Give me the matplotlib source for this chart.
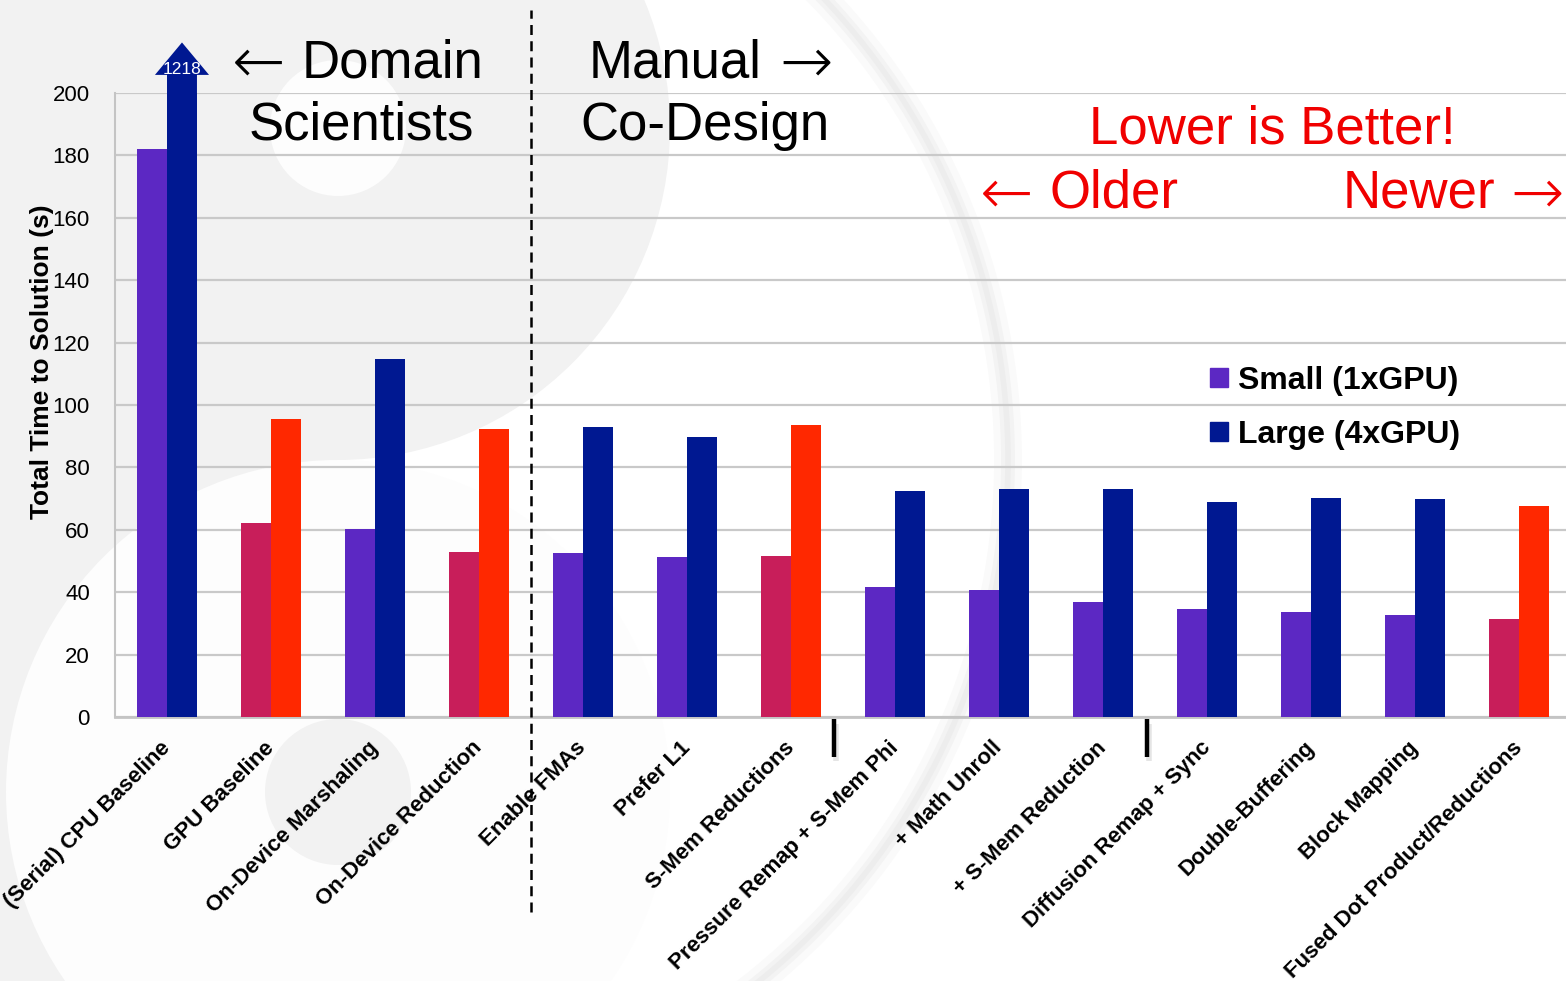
import matplotlib
matplotlib.use("Agg")
import matplotlib.pyplot as plt
import matplotlib.transforms as mtransforms
from matplotlib import font_manager
from matplotlib.patches import Circle, Wedge, Polygon, Patch
import numpy as np

# optimisation steps, oldest to newest
steps = ["(Serial) CPU Baseline", "GPU Baseline", "On-Device Marshaling",
         "On-Device Reduction", "Enable FMAs", "Prefer L1", "S-Mem Reductions",
         "Pressure Remap + S-Mem Phi", "+ Math Unroll", "+ S-Mem Reduction",
         "Diffusion Remap + Sync", "Double-Buffering", "Block Mapping",
         "Fused Dot Product/Reductions"]
small_1gpu = [182.0, 62.2, 60.3, 52.9, 52.6, 51.3, 51.6, 41.7, 40.7, 36.9,
              34.6, 33.7, 32.7, 31.4]
large_4gpu = [1218.0, 95.5, 114.7, 92.3, 92.9, 89.7, 93.6, 72.4, 73.1, 73.1,
              68.9, 70.2, 69.9, 67.6]
highlighted = [1, 3, 6, 13]
yticks = [0, 20, 40, 60, 80, 100, 120, 140, 160, 180, 200]

PURPLE = "#5C28C3"
NAVY = "#001891"
CRIMSON = "#C81E5A"
RED = "#FF2800"
TXT_RED = "#F00000"

W, H = 1566, 981

installed = {f.name for f in font_manager.fontManager.ttflist}
HAS_NARROW = "Liberation Sans Narrow" in installed
BASE = ["Liberation Sans", "DejaVu Sans"]
NARROW = (["Liberation Sans Narrow"] if HAS_NARROW else []) + BASE
plt.rcParams["font.family"] = BASE


def px(x, y):
    return x / W, 1 - y / H


fig = plt.figure(figsize=(W / 100, H / 100), dpi=100)
fig.patch.set_facecolor("white")

# faint yin-yang watermark behind everything
bg = fig.add_axes([0, 0, 1, 1], zorder=-10)
bg.set_xlim(0, W)
bg.set_ylim(H, 0)
bg.axis("off")
cx, cy, R = 338, 460, 664
dark, light = "#F2F2F2", "#FDFDFD"
bg.add_patch(Wedge((cx, cy), R, 90, 270, color=dark, lw=0))
bg.add_patch(Circle((cx, cy - R / 2), R / 2, color=dark, lw=0))
bg.add_patch(Circle((cx, cy + R / 2), R / 2, color=light, lw=0))
bg.add_patch(Circle((cx, cy - R / 2), 68, color=light, lw=0))
bg.add_patch(Circle((cx, cy + R / 2), 73, color=dark, lw=0))
for lw_, a in [(20, 0.2), (10, 0.35), (4, 0.45)]:
    bg.add_patch(Circle((cx, cy), R + 6, fill=False, ec="#E6E6E6", lw=lw_, alpha=a))

ax = fig.add_axes([115 / W, 1 - 717 / H, 1451 / W, 624 / H])
ax.set_facecolor("none")

x = np.arange(len(steps))
w = 0.288
small_colors = [CRIMSON if i in highlighted else PURPLE for i in x]
large_colors = [RED if i in highlighted else NAVY for i in x]
ax.bar(x - w / 2, small_1gpu, w, color=small_colors, lw=0, zorder=3)
ax.bar(x + w / 2, large_4gpu, w, color=large_colors, lw=0, zorder=3)

ax.set_xlim(-0.5, 13.45)
ax.set_ylim(0, 200)
ax.set_yticks(yticks)
ax.yaxis.grid(True, color="#C9C9C9", lw=1.6)
ax.set_axisbelow(True)
for s in ["top", "right"]:
    ax.spines[s].set_visible(False)
ax.spines["left"].set_color("#C4C4C4")
ax.spines["left"].set_linewidth(1.5)
ax.spines["bottom"].set_color("#C4C4C4")
ax.spines["bottom"].set_linewidth(2)
ax.tick_params(axis="y", length=0, pad=18, labelsize=18 if HAS_NARROW else 16)
ax.tick_params(axis="x", length=0, pad=20)
for lab in ax.get_yticklabels():
    lab.set_family(NARROW)

ax.set_xticks(x)
ax.set_xticklabels(steps, fontsize=16, fontweight="bold", rotation=45,
                   ha="right", va="center", rotation_mode="anchor")

ax.set_ylabel("Total Time to Solution (s)", fontsize=21 if HAS_NARROW else 19,
              fontweight="bold", family=NARROW)
ax.yaxis.set_label_coords(-0.042, 0.569)

# overflow arrow on top of the clipped CPU bar
top = ax.get_ylim()[1]
bx = x[0] + w / 2
shaft_top, head_top, head_half = top * 1.029, top * 1.081, 0.26
ax.add_patch(Polygon([(bx - w / 2, top), (bx - w / 2, shaft_top), (bx - head_half, shaft_top),
                      (bx, head_top), (bx + head_half, shaft_top), (bx + w / 2, shaft_top),
                      (bx + w / 2, top)], closed=True, color=NAVY, lw=0,
                     clip_on=False, zorder=4))
ax.text(bx, top * 1.037, f"{large_4gpu[0]:.0f}", color="white", ha="center", va="center",
        fontsize=14.5 if HAS_NARROW else 12.5, family=NARROW, zorder=5, clip_on=False)

blend = mtransforms.blended_transform_factory(ax.transData, ax.transAxes)
# split between the two phases
ax.plot([3.5, 3.5], [-0.3125, 1.133], transform=blend, color="black", lw=1.8,
        ls=(0, (4, 2.5)), clip_on=False, zorder=6)
# small markers below the axis
for xm in [6.41, 9.42]:
    ax.plot([xm + 0.02, xm + 0.02], [-0.012, -0.07], transform=blend, color="#999999",
            lw=4, alpha=0.25, solid_capstyle="butt", clip_on=False)
    ax.plot([xm, xm], [-0.003, -0.064], transform=blend, color="black", lw=3.2,
            solid_capstyle="butt", clip_on=False)

# headings; arrows come from a light DejaVu Sans for their long thin shape
big = dict(fontsize=38, ha="center", va="baseline", family=BASE)
arrow = dict(fontsize=46, ha="center", va="baseline", family=["DejaVu Sans"],
             fontweight=200)
fig.text(*px(392, 77), "Domain", **big)
fig.text(*px(259, 83), "\u2190", **arrow)
fig.text(*px(361, 140), "Scientists", **big)
fig.text(*px(675, 77), "Manual", **big)
fig.text(*px(806, 83), "\u2192", **arrow)
fig.text(*px(705, 140), "Co-Design", **big)
fig.text(*px(1272, 144), "Lower is Better!", color=TXT_RED, **big)
fig.text(*px(1114, 208), "Older", color=TXT_RED, **big)
fig.text(*px(1007, 214), "\u2190", color=TXT_RED, **arrow)
fig.text(*px(1419, 208), "Newer", color=TXT_RED, **big)
fig.text(*px(1537, 214), "\u2192", color=TXT_RED, **arrow)

leg_fs = 28 if HAS_NARROW else 23
em = leg_fs * 100 / 72
handles = [Patch(color=PURPLE, label="Small (1xGPU)"),
           Patch(color=NAVY, label="Large (4xGPU)")]
ax.legend(handles=handles, loc="upper left", bbox_to_anchor=px(1210, 366),
          bbox_transform=fig.transFigure, frameon=False, borderpad=0,
          borderaxespad=0, handlelength=18 / em, handleheight=18 / em,
          handletextpad=10 / em, labelspacing=24 / em,
          prop=dict(family=NARROW, weight="bold", size=leg_fs))

fig.savefig("out.png", dpi=100, facecolor=fig.get_facecolor())
